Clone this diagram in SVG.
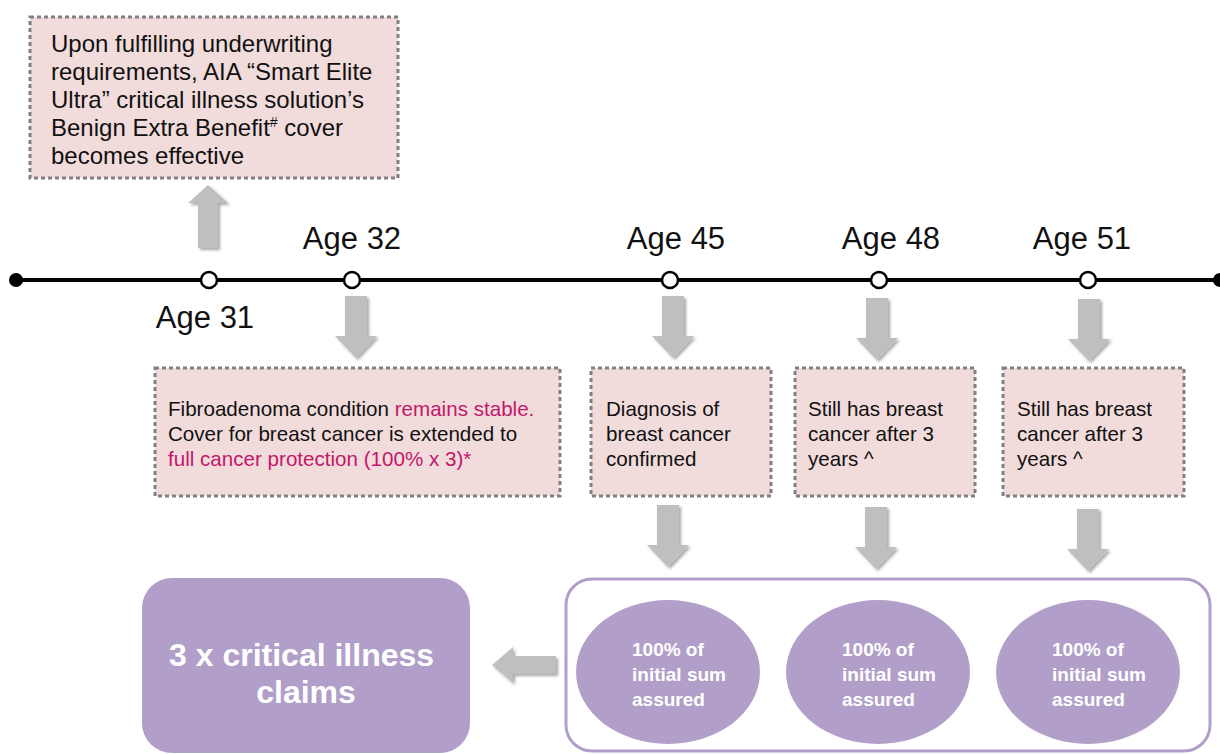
<svg xmlns="http://www.w3.org/2000/svg" width="1220" height="754" viewBox="0 0 1220 754">
<defs>
<style>
.box{fill:#f2dcdb;stroke:#808080;stroke-width:3;stroke-dasharray:4 3}
.t{font-family:"Liberation Sans",Arial,sans-serif;fill:#111}
.m{fill:#c2176d}
.age{font-family:"Liberation Sans",Arial,sans-serif;font-size:31px;fill:#111;text-anchor:middle}
.wb{font-family:"Liberation Sans",Arial,sans-serif;font-weight:bold;fill:#fff}
.arr{fill:#bfbfbf;filter:url(#sh)}
.pur{fill:#b19fca}
.dot{fill:#fff;stroke:#000;stroke-width:2.5}
</style>
<filter id="sh" x="-30%" y="-30%" width="160%" height="160%">
<feDropShadow dx="2" dy="2" stdDeviation="1.5" flood-color="#000" flood-opacity="0.35"/>
</filter>
<path id="down" d="M-11,0 H11 V40 H21 L0,62 L-21,40 H-11 Z"/>
</defs>
<rect width="1220" height="754" fill="#fff"/>

<g id="timeline">
<line x1="16" y1="280" x2="1220" y2="280" stroke="#000" stroke-width="4"/>
<circle cx="16" cy="280" r="7" fill="#000"/>
<circle cx="1220" cy="280" r="7" fill="#000"/>
</g>

<g id="connectors">
<path class="arr" d="M198,248 V203 H188 L208,185 L228,203 H218 V248 Z"/>
<use href="#down" class="arr" x="356" y="296"/>
<use href="#down" class="arr" x="673" y="296"/>
<use href="#down" class="arr" x="877" y="298"/>
<use href="#down" class="arr" x="1089" y="299"/>
<use href="#down" class="arr" x="668" y="505"/>
<use href="#down" class="arr" x="876" y="507"/>
<use href="#down" class="arr" x="1088" y="509"/>
<path class="arr" d="M556,656 H513 V647 L492,665 L513,683 V674 H556 Z"/>
</g>

<g id="age31">
<circle class="dot" cx="209" cy="280" r="8"/>
<text class="age" x="205" y="328">Age 31</text>
</g>
<g id="age32">
<circle class="dot" cx="352" cy="280" r="8"/>
<text class="age" x="352" y="249">Age 32</text>
</g>
<g id="age45">
<circle class="dot" cx="670" cy="280" r="8"/>
<text class="age" x="676" y="249">Age 45</text>
</g>
<g id="age48">
<circle class="dot" cx="879" cy="280" r="8"/>
<text class="age" x="891" y="249">Age 48</text>
</g>
<g id="age51">
<circle class="dot" cx="1088" cy="280" r="8"/>
<text class="age" x="1082" y="249">Age 51</text>
</g>

<g id="box-top">
<rect class="box" x="30" y="17" width="368" height="161"/>
<text class="t" font-size="24">
<tspan x="51" y="52">Upon fulfilling underwriting</tspan>
<tspan x="51" y="80">requirements, AIA “Smart Elite</tspan>
<tspan x="51" y="108">Ultra” critical illness solution’s</tspan>
<tspan x="51" y="136">Benign Extra Benefit<tspan font-size="14" dy="-9">#</tspan><tspan dy="9"> cover</tspan></tspan>
<tspan x="51" y="164">becomes effective</tspan>
</text>
</g>

<g id="box-age32">
<rect class="box" x="155" y="368" width="405" height="128"/>
<text class="t" font-size="20.6">
<tspan x="168" y="416">Fibroadenoma condition <tspan class="m">remains stable.</tspan></tspan>
<tspan x="168" y="441">Cover for breast cancer is extended to</tspan>
<tspan x="168" y="466" class="m">full cancer protection (100% x 3)*</tspan>
</text>
</g>

<g id="box-age45">
<rect class="box" x="591" y="368" width="180" height="128"/>
<text class="t" font-size="20.6">
<tspan x="606" y="416">Diagnosis of</tspan>
<tspan x="606" y="441">breast cancer</tspan>
<tspan x="606" y="466">confirmed</tspan>
</text>
</g>

<g id="box-age48">
<rect class="box" x="795" y="368" width="180" height="128"/>
<text class="t" font-size="20.6">
<tspan x="808" y="416">Still has breast</tspan>
<tspan x="808" y="441">cancer after 3</tspan>
<tspan x="808" y="466">years ^</tspan>
</text>
</g>

<g id="box-age51">
<rect class="box" x="1003" y="368" width="181" height="128"/>
<text class="t" font-size="20.6">
<tspan x="1017" y="416">Still has breast</tspan>
<tspan x="1017" y="441">cancer after 3</tspan>
<tspan x="1017" y="466">years ^</tspan>
</text>
</g>

<g id="claims">
<rect class="pur" x="142" y="578" width="328" height="175" rx="30"/>
<text class="wb" font-size="32" text-anchor="middle">
<tspan x="306" y="666">3 x critical illness</tspan>
<tspan x="306" y="703">claims</tspan>
</text>
</g>

<g id="payouts">
<rect x="566" y="579" width="644" height="172" rx="26" fill="#fff" stroke="#b19fca" stroke-width="3"/>
<g id="payout1">
<ellipse class="pur" cx="668" cy="672" rx="92" ry="72"/>
<text class="wb" font-size="19"><tspan x="632" y="656">100% of</tspan><tspan x="632" y="681">initial sum</tspan><tspan x="632" y="706">assured</tspan></text>
</g>
<g id="payout2">
<ellipse class="pur" cx="878" cy="672" rx="92" ry="72"/>
<text class="wb" font-size="19"><tspan x="842" y="656">100% of</tspan><tspan x="842" y="681">initial sum</tspan><tspan x="842" y="706">assured</tspan></text>
</g>
<g id="payout3">
<ellipse class="pur" cx="1088" cy="672" rx="92" ry="72"/>
<text class="wb" font-size="19"><tspan x="1052" y="656">100% of</tspan><tspan x="1052" y="681">initial sum</tspan><tspan x="1052" y="706">assured</tspan></text>
</g>
</g>
</svg>
